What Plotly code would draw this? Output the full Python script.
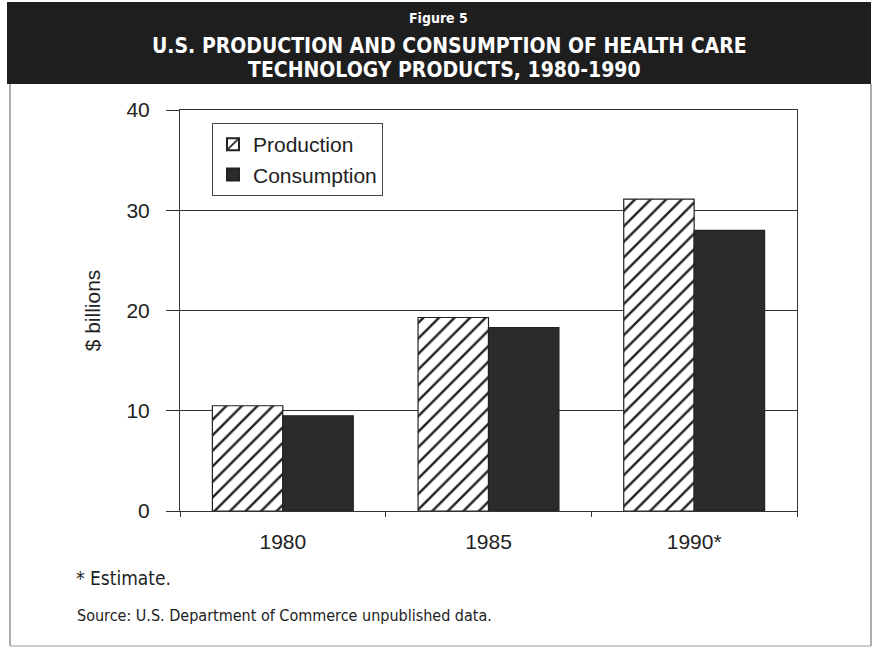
import plotly.graph_objects as go

# Data ($ billions)
years = ["1980", "1985", "1990*"]
production = [10.5, 19.3, 31.1]
consumption = [9.5, 18.3, 28.0]

W, H = 877, 649
L, R, T, B = 180, 797, 110, 511  # plot-area edges in pixels


def px(x):
    return (x - L) / (R - L)


def py(y):
    return (B - y) / (B - T)


fig = go.Figure()
fig.add_trace(go.Bar(
    name="Production", x=years, y=production,
    marker=dict(color="white", line=dict(color="#222", width=1.2),
                pattern=dict(shape="/", fgcolor="#222", bgcolor="white",
                             size=11, solidity=0.22, fillmode="replace")),
))
fig.add_trace(go.Bar(
    name="Consumption", x=years, y=consumption,
    marker=dict(color="#2b2b2b", line=dict(color="#222", width=1.2)),
))

sans = "Liberation Sans, Arial, sans-serif"
axis_font = dict(family=sans, size=21, color="#222")
narrow = "Liberation Sans Narrow, DejaVu Sans Condensed, Arial Narrow, sans-serif"

fig.update_layout(
    width=W, height=H,
    margin=dict(l=L, r=W - R, t=T, b=H - B),
    paper_bgcolor="white", plot_bgcolor="white",
    barmode="group", bargap=0.315, bargroupgap=0,
    font=axis_font,
    showlegend=True,
    legend=dict(x=px(212), y=py(123), xanchor="left", yanchor="top",
                bordercolor="#444", borderwidth=1, bgcolor="white",
                font=dict(size=21, color="#222", family=sans),
                itemsizing="constant", tracegroupgap=0),
    xaxis=dict(showline=True, linecolor="#333", linewidth=1, mirror=True,
               ticks="outside", tickson="boundaries", ticklen=5,
               tickcolor="#333", showgrid=False, tickfont=axis_font,
               ticklabelstandoff=12),
    yaxis=dict(range=[0, 40], dtick=10, showline=True, linecolor="#333",
               linewidth=1, mirror=True, ticks="outside", ticklen=13,
               tickcolor="#333", showgrid=True, gridcolor="#333", gridwidth=1,
               tickfont=axis_font, ticklabelstandoff=12,
               title=dict(text="$ billions", font=dict(family=sans, size=21, color="#222"),
                          standoff=20)),
)

# Header band and frame
shapes = [
    dict(type="rect", xref="paper", yref="paper", x0=px(7), x1=px(871),
         y0=py(84), y1=py(2), fillcolor="#1e1e1e", line=dict(width=0), layer="below"),
    dict(type="line", xref="paper", yref="paper", x0=px(10), x1=px(10),
         y0=py(84), y1=py(646), line=dict(color="#777", width=1.2)),
    dict(type="line", xref="paper", yref="paper", x0=px(871), x1=px(871),
         y0=py(84), y1=py(646), line=dict(color="#777", width=1.2)),
    dict(type="line", xref="paper", yref="paper", x0=px(10), x1=px(871),
         y0=py(646), y1=py(646), line=dict(color="#999", width=1)),
]
fig.update_layout(shapes=shapes)

annotations = [
    dict(text="<b>Figure 5</b>", x=px(438), y=py(18), font=dict(family=narrow, size=14, color="white")),
    dict(text="<b>U.S. PRODUCTION AND CONSUMPTION OF HEALTH CARE</b>", x=px(449), y=py(46),
         font=dict(family=narrow, size=21, color="white")),
    dict(text="<b>TECHNOLOGY PRODUCTS, 1980-1990</b>", x=px(444), y=py(70),
         font=dict(family=narrow, size=21, color="white")),
]
for a in annotations:
    a.update(xref="paper", yref="paper", showarrow=False, xanchor="center", yanchor="middle")
fig.update_layout(annotations=annotations)

fig.add_annotation(text="* Estimate.", x=px(74), y=py(578), xref="paper", yref="paper",
                   showarrow=False, xanchor="left", yanchor="middle",
                   font=dict(family=narrow, size=19, color="#222"))
fig.add_annotation(text="Source: U.S. Department of Commerce unpublished data.", x=px(75), y=py(615),
                   xref="paper", yref="paper", showarrow=False, xanchor="left", yanchor="middle",
                   font=dict(family=narrow, size=16, color="#222"))

fig.write_html("out.html")
